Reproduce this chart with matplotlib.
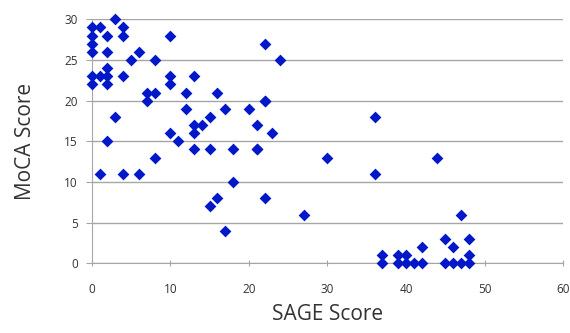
import matplotlib
matplotlib.use("Agg")
import matplotlib.pyplot as plt

# SAGE vs MoCA scores
sage = [0, 0, 0, 0, 0, 0, 1, 1, 2, 2, 2, 2, 2, 3, 3, 4, 4, 4, 5, 6, 7, 7, 8, 8,
        10, 10, 10, 12, 12, 13, 13, 14, 15, 16, 17, 20, 21, 22, 22, 24, 22, 23, 36,
        1, 2, 4, 6, 8, 10, 11, 13, 13, 15, 15, 16, 17, 18, 18, 21, 22,
        21, 30, 36, 44, 27, 47, 45, 46, 48, 42,
        37, 37, 39, 39, 40, 40, 41, 42, 45, 46, 47, 48, 48]
moca = [29, 28, 27, 26, 23, 22, 29, 23, 28, 26, 24, 23, 22, 30, 18, 29, 28, 23, 25, 26, 21, 20, 25, 21,
        28, 23, 22, 21, 19, 23, 17, 17, 18, 21, 19, 19, 17, 27, 20, 25, 20, 16, 18,
        11, 15, 11, 11, 13, 16, 15, 16, 14, 14, 7, 8, 4, 14, 10, 14, 8,
        14, 13, 11, 13, 6, 6, 3, 2, 3, 2,
        1, 0, 1, 0, 1, 0, 0, 0, 0, 0, 0, 0, 1]

x_ticks = [0, 10, 20, 30, 40, 50, 60]
y_ticks = [0, 5, 10, 15, 20, 25, 30]

plt.rcParams['font.family'] = ['Open Sans', 'DejaVu Sans']

fig = plt.figure(figsize=(5.7, 3.33), dpi=100)
ax = fig.add_axes([0.161, 0.209, 0.827, 0.733])

ax.scatter(sage, moca, marker='D', s=36, color='#0018c8', linewidths=0,
           zorder=3, clip_on=False)

ax.set_xlim(0, 60)
ax.set_ylim(0, 30)
ax.set_xticks(x_ticks)
ax.set_yticks(y_ticks)
ax.yaxis.grid(True, color='#a6a6a6', linewidth=1.0)
ax.set_axisbelow(True)

for side in ['top', 'right']:
    ax.spines[side].set_visible(False)
for side in ['left', 'bottom']:
    ax.spines[side].set_color('#a6a6a6')
ax.tick_params(axis='both', colors='#a6a6a6', labelcolor='#333333', labelsize=8.5, length=4)
ax.tick_params(axis='x', direction='inout', pad=12)
ax.tick_params(axis='y', direction='out', pad=6)

ax.set_xlabel('SAGE Score', fontsize=15, color='#333333', labelpad=6)
ax.set_ylabel('MoCA Score', fontsize=15, color='#333333', labelpad=20)

fig.savefig('out.png', dpi=100)
